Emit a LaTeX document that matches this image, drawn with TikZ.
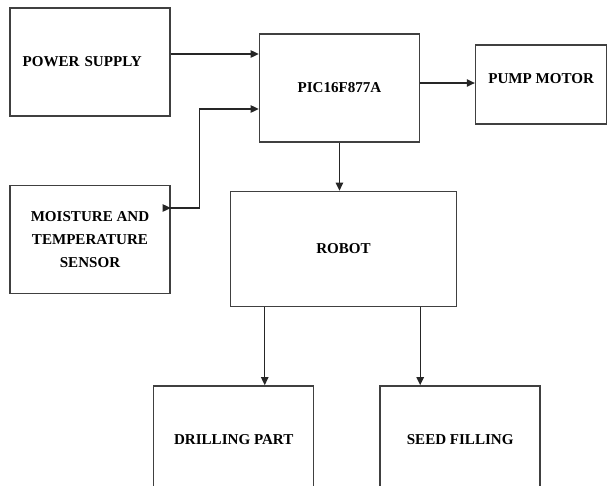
\documentclass[tikz,border=0pt]{standalone}
\usepackage{fontspec}
\setmainfont{Liberation Serif}
\usetikzlibrary{positioning, arrows.meta}
\definecolor{boxline}{RGB}{64, 64, 64}

\begin{document}
\begin{tikzpicture}[
  every node/.style={font=\bfseries\fontsize{11.3}{17.5}\selectfont},
  block/.style={
    draw=boxline, line width=1.1pt,
    minimum width=120pt, minimum height=81pt,
    align=center, inner sep=2pt,
  },
  arr/.style={-{Triangle[length=6pt, width=5.5pt]}, line width=1pt, draw=black!85},
  biarr/.style={arr, {Triangle[length=6pt, width=5.5pt]}-{Triangle[length=6pt, width=5.5pt]}},
]
  \useasboundingbox (-67.5pt,46.5pt) rectangle (388.5pt,-318pt);

  \node[block, text width=101pt, align=left]        (psu)    {POWER SUPPLY};
  \node[block, right=66pt of psu, yshift=-19.5pt]   (pic)    {PIC16F877A};
  \node[block, right=41pt of pic, yshift=2.6pt, text depth=9pt,
        minimum width=98.25pt, minimum height=59.25pt] (pump) {PUMP MOTOR};
  \node[block, below=51pt of psu]                   (sensor) {MOISTURE AND\\TEMPERATURE\\SENSOR};
  \node[block, below=36pt of pic, xshift=3pt,
        minimum width=169.5pt, minimum height=86.25pt] (robot) {ROBOT};
  \node[block, below=58.5pt of robot.south west, xshift=3pt] (drill) {DRILLING PART};
  \node[block, right=48.75pt of drill]              (seed)   {SEED FILLING};

  \draw[arr] ([yshift=6pt]psu.east) -- ([yshift=6pt]psu.east -| pic.west);
  \draw[biarr] ([yshift=-15.75pt]pic.west) -| ++(-44.25pt,-74.25pt) -- ++(-22.5pt,0) coordinate (s)
    -- (s -| sensor.east);
  \draw[arr] ([yshift=3.75pt]pic.east) -- ([yshift=3.75pt]pic.east -| pump.west);
  \draw[arr] (pic.south) -- (pic.south |- robot.north);
  \draw[arr] ([xshift=26.25pt]robot.south west) -- ([xshift=26.25pt]robot.south west |- drill.north);
  \draw[arr] ([xshift=-27.75pt]robot.south east) -- ([xshift=-27.75pt]robot.south east |- seed.north);
\end{tikzpicture}
\end{document}
